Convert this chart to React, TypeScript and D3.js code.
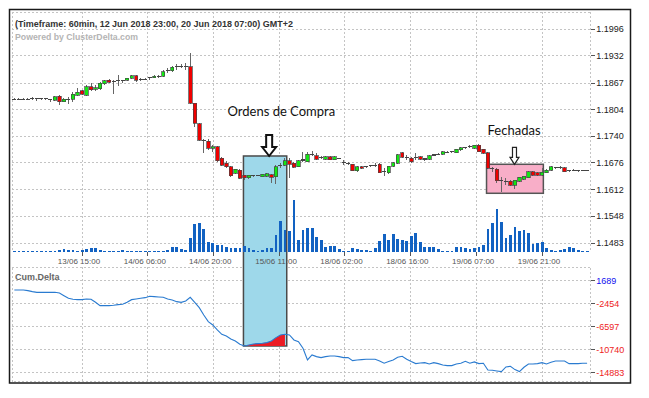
import * as d3 from "d3";

// hourly bars, 13/06 00:00 .. 20/06 07:00 (GMT+2), weekend skipped
const opens = [
  1.18289, 1.18282, 1.18289, 1.18282, 1.18289, 1.18296, 1.18282, 1.18306, 1.18272, 1.18265,
  1.18361, 1.18224, 1.18272, 1.18282, 1.18385, 1.18481, 1.18385, 1.18584, 1.18522, 1.18529,
  1.18649, 1.18744, 1.1872, 1.18737, 1.1872, 1.18744, 1.18785, 1.18847, 1.18761, 1.18768,
  1.18768, 1.188, 1.1884, 1.1884, 1.1896, 1.18967, 1.19049, 1.19063, 1.1908, 1.19063,
  1.18186, 1.1769, 1.17306, 1.17282, 1.17107, 1.17139, 1.16868, 1.16748, 1.16666, 1.16508,
  1.16587, 1.16467, 1.16402, 1.1646, 1.1645, 1.16431, 1.16443, 1.16479, 1.16426, 1.16666,
  1.16707, 1.1681, 1.16748, 1.16666, 1.16827, 1.16786, 1.16963, 1.1693, 1.16882, 1.16844,
  1.16906, 1.16827, 1.16868, 1.16762, 1.16748, 1.16724, 1.1657, 1.16666, 1.16666, 1.1669,
  1.167, 1.16724, 1.16546, 1.16522, 1.16683, 1.16748, 1.17002, 1.16892, 1.16868, 1.16882,
  1.16906, 1.16844, 1.16844, 1.1694, 1.16963, 1.16963, 1.17012, 1.17026, 1.17002, 1.17067,
  1.17122, 1.17146, 1.17107, 1.17186, 1.17083, 1.17002, 1.16628, 1.16604, 1.16347, 1.16323,
  1.16323, 1.16227, 1.16323, 1.16371, 1.16402, 1.16546, 1.16522, 1.16467, 1.16522, 1.16587,
  1.16642, 1.16652, 1.16642, 1.16546, 1.1658, 1.1657, 1.1658, 1.1657,
];
const highs = [
  1.18306, 1.18313, 1.18306, 1.18306, 1.18337, 1.18306, 1.18313, 1.18313, 1.18289, 1.18361,
  1.18385, 1.18313, 1.18344, 1.18464, 1.18545, 1.18505, 1.18625, 1.18665, 1.18625, 1.18704,
  1.18744, 1.18768, 1.18756, 1.18864, 1.18756, 1.18768, 1.18864, 1.18876, 1.18792, 1.188,
  1.18816, 1.18864, 1.18876, 1.18984, 1.19032, 1.1908, 1.19128, 1.19128, 1.19152, 1.19384,
  1.18193, 1.17707, 1.1733, 1.17337, 1.17186, 1.17162, 1.16899, 1.16803, 1.16683, 1.16623,
  1.16623, 1.16479, 1.16479, 1.16474, 1.16474, 1.16498, 1.16515, 1.16503, 1.16707, 1.16755,
  1.16875, 1.16875, 1.16779, 1.16827, 1.17019, 1.17019, 1.1705, 1.17002, 1.16923, 1.1693,
  1.16923, 1.16923, 1.16882, 1.16827, 1.16779, 1.16738, 1.16683, 1.1669, 1.1669, 1.16714,
  1.16748, 1.16755, 1.16628, 1.16695, 1.16779, 1.16971, 1.17026, 1.16947, 1.16899, 1.16987,
  1.1693, 1.16875, 1.16947, 1.16971, 1.16987, 1.17043, 1.17035, 1.1705, 1.17098, 1.17146,
  1.17146, 1.17186, 1.17186, 1.1721, 1.17098, 1.17026, 1.16666, 1.16628, 1.16426, 1.16388,
  1.16347, 1.16359, 1.16426, 1.1645, 1.16563, 1.16575, 1.16532, 1.16628, 1.16611, 1.16683,
  1.16659, 1.16676, 1.16659, 1.16594, 1.16611, 1.16594, 1.16594, 1.16587,
];
const lows = [
  1.18272, 1.18265, 1.18272, 1.18265, 1.18272, 1.18241, 1.18265, 1.18265, 1.18224, 1.18241,
  1.18145, 1.1821, 1.18176, 1.18224, 1.18368, 1.18385, 1.18361, 1.18481, 1.18481, 1.18505,
  1.18625, 1.18673, 1.18409, 1.18601, 1.18673, 1.1872, 1.18768, 1.18704, 1.1872, 1.18737,
  1.18744, 1.18785, 1.18792, 1.18816, 1.18912, 1.18943, 1.18984, 1.19032, 1.18984, 1.18169,
  1.17625, 1.17282, 1.16987, 1.17067, 1.17019, 1.16779, 1.16683, 1.16642, 1.16426, 1.16491,
  1.16371, 1.16347, 1.16383, 1.16431, 1.16436, 1.16419, 1.16426, 1.16287, 1.16251, 1.16635,
  1.16683, 1.16388, 1.16635, 1.16652, 1.16786, 1.16779, 1.16923, 1.16827, 1.16851, 1.16827,
  1.16815, 1.16815, 1.16851, 1.16707, 1.16707, 1.16563, 1.16546, 1.16618, 1.16642, 1.16666,
  1.16666, 1.16515, 1.16443, 1.16498, 1.16659, 1.16731, 1.16875, 1.16827, 1.16748, 1.16827,
  1.16827, 1.1681, 1.16827, 1.16923, 1.16947, 1.16947, 1.16987, 1.17002, 1.16995, 1.1705,
  1.17098, 1.17115, 1.17091, 1.17026, 1.16978, 1.16611, 1.16546, 1.16275, 1.16067, 1.16227,
  1.16204, 1.16124, 1.16307, 1.16355, 1.16395, 1.16443, 1.16443, 1.1645, 1.16508, 1.1657,
  1.16611, 1.16618, 1.16539, 1.16532, 1.16556, 1.16546, 1.16556, 1.16556,
];
const closes = [
  1.18282, 1.18289, 1.18282, 1.18289, 1.18296, 1.18282, 1.18306, 1.18272, 1.18258, 1.18344,
  1.18224, 1.18289, 1.18282, 1.18402, 1.1845, 1.18402, 1.18584, 1.18505, 1.1856, 1.18665,
  1.18728, 1.18689, 1.18713, 1.18744, 1.18728, 1.18785, 1.18847, 1.18744, 1.18768, 1.18761,
  1.188, 1.1884, 1.18833, 1.18943, 1.18967, 1.19049, 1.19063, 1.1908, 1.19063, 1.18186,
  1.17707, 1.17306, 1.17282, 1.17107, 1.17146, 1.16803, 1.16707, 1.16666, 1.1645, 1.16611,
  1.16388, 1.16402, 1.1646, 1.1645, 1.1646, 1.16484, 1.16503, 1.16419, 1.16666, 1.167,
  1.1681, 1.16724, 1.16652, 1.1681, 1.1682, 1.16963, 1.16954, 1.16844, 1.16892, 1.16906,
  1.16834, 1.16899, 1.16858, 1.16755, 1.16738, 1.1657, 1.16666, 1.16628, 1.16659, 1.16683,
  1.1669, 1.16522, 1.16539, 1.16683, 1.16762, 1.16947, 1.16892, 1.16882, 1.16786, 1.16892,
  1.16844, 1.16851, 1.1693, 1.16947, 1.16954, 1.17026, 1.17002, 1.17035, 1.17083, 1.17122,
  1.17115, 1.17139, 1.17186, 1.17026, 1.16987, 1.16628, 1.16618, 1.1633, 1.1634, 1.16316,
  1.16227, 1.16347, 1.16412, 1.16443, 1.16546, 1.16467, 1.16467, 1.16532, 1.16587, 1.16666,
  1.16628, 1.16642, 1.16546, 1.1657, 1.16587, 1.1658, 1.1657, 1.16575,
];
const volumes = [
  22, 18, 20, 16, 20, 18, 22, 20, 18, 24, 26, 46, 34, 26, 14, 34, 46, 66, 66, 40,
  20, 20, 18, 20, 34, 20, 18, 20, 20, 18, 20, 22, 20, 24, 34, 86, 86, 46, 34, 280,
  546, 566, 446, 186, 166, 134, 134, 86, 66, 66, 66, 114, 66, 34, 20, 34, 66, 66, 334, 614,
  434, 414, 1034, 234, 434, 480, 466, 300, 234, 100, 114, 114, 46, 14, 14, 80, 46, 34, 34, 20,
  66, 220, 346, 234, 346, 246, 234, 220, 314, 366, 200, 100, 100, 100, 46, 20, 14, 14, 86, 86,
  80, 54, 66, 86, 134, 446, 566, 854, 600, 266, 334, 500, 420, 434, 380, 154, 166, 186, 66, 34,
  20, 34, 54, 86, 66, 34, 20, 14,
];
const cumDelta = [
  15, 15, 15, -105, -285, -405, -405, -405, -405, -405, -525, -1005, -1485, -1665, -1725, -1725,
  -1605, -1665, -2205, -2805, -2805, -2805, -2745, -2625, -2565, -2205, -1725, -1605, -1485, -1365,
  -1125, -1185, -1245, -1305, -1605, -1785, -2085, -2205, -1965, -1305, -2205, -3165, -4485, -5685,
  -6285, -7185, -7965, -8265, -8805, -9165, -9765, -10065, -9885, -9705, -9645, -9585, -9465, -9165,
  -8565, -8085, -7965, -8085, -8985, -9285, -10485, -12585, -11685, -11985, -12165, -11985, -11865,
  -11865, -11985, -12165, -12165, -12705, -12585, -12525, -12465, -12465, -12465, -12765, -13185,
  -12885, -12585, -12105, -11925, -12465, -12885, -13245, -13125, -13065, -13305, -13065, -13245,
  -13485, -13605, -13605, -13305, -13185, -12825, -13185, -12945, -13245, -13185, -14385, -14445,
  -14565, -14685, -13845, -13725, -14325, -14685, -13905, -13305, -13305, -13245, -13065, -13305,
  -13005, -12765, -12765, -12765, -13245, -13245, -13245, -13185, -13185,
];

const priceTicks = [1.1996, 1.1932, 1.1867, 1.1804, 1.174, 1.1676, 1.1612, 1.1548, 1.1483];
const deltaTicks = [1689, -2454, -6597, -10740, -14883];
const timeTickBars = [15, 29.6, 44.1, 58.7, 73.2, 87.8, 102.4, 117];
const timeTickLabels = [
  "13/06 15:00", "14/06 06:00", "14/06 20:00", "15/06 11:00",
  "18/06 02:00", "18/06 16:00", "19/06 07:00", "19/06 21:00",
];

// annotations: bar index range + price / delta bounds
const buyZone = { from: 50.8, to: 60.4, topPrice: 1.16923, bottomDelta: -10070, label: "Ordens de Compra", labelBar: 59.2, arrowBar: 56.5 };
const closedZone = { from: 104.7, to: 117.3, topPrice: 1.16724, bottomPrice: 1.16029, label: "Fechadas", labelBar: 110.8, arrowBar: 110.9 };

const TITLE = "(Timeframe: 60min, 12 Jun 2018 23:00, 20 Jun 2018 07:00) GMT+2";

const L = 12;
const R = 590.7;
const P_TOP = 12;
const P_BOT = 252;
const D_TOP = 267;
const D_BOT = 381.7;
const GRID = "#c4c4c4";

function arrowPath(cx: number, tipY: number, headW: number, headH: number, shaftW: number, shaftH: number) {
  const p = d3.path();
  p.moveTo(cx - shaftW, tipY - headH - shaftH);
  p.lineTo(cx + shaftW, tipY - headH - shaftH);
  p.lineTo(cx + shaftW, tipY - headH);
  p.lineTo(cx + headW, tipY - headH);
  p.lineTo(cx, tipY);
  p.lineTo(cx - headW, tipY - headH);
  p.lineTo(cx - shaftW, tipY - headH);
  p.closePath();
  return p.toString();
}

export default function App() {
  const x = d3.scaleLinear().domain([15, 117]).range([82, 542]);
  const yPrice = d3.scaleLinear().domain([1.1483, 1.1996]).range([243.3, 29.3]);
  const yVol = d3.scaleLinear().domain([0, 1100]).range([251.7, 196.7]);
  const yDelta = d3.scaleLinear().domain([-14883, 1689]).range([372.7, 280.7]);

  const bars = d3.range(opens.length);
  const deltaLine = d3.line<number>().x((i) => x(i)).y((i) => yDelta(cumDelta[i]));
  const redBars = bars.filter((i) => i >= Math.ceil(buyZone.from) && i <= Math.floor(buyZone.to));
  const redArea = d3
    .area<number>()
    .x((i) => x(i))
    .y0(yDelta(buyZone.bottomDelta))
    .y1((i) => yDelta(cumDelta[i]));

  const bzX0 = x(buyZone.from);
  const bzX1 = x(buyZone.to);
  const bzY0 = yPrice(buyZone.topPrice);
  const bzY1 = yDelta(buyZone.bottomDelta);
  const czX0 = x(closedZone.from);
  const czX1 = x(closedZone.to);
  const czY0 = yPrice(closedZone.topPrice);
  const czY1 = yPrice(closedZone.bottomPrice);

  return (
    <div style={{ position: "absolute", left: 0, top: 0 }}>
      <svg width={649} height={398} style={{ display: "block", background: "#fff" }}>
        {/* grid */}
        <g stroke={GRID} strokeDasharray="2,2" shapeRendering="crispEdges" fill="none">
          <line x1={L} x2={R} y1={P_TOP} y2={P_TOP} />
          <line x1={L} x2={L} y1={P_TOP} y2={P_BOT} />
          <line x1={R} x2={R} y1={P_TOP} y2={P_BOT} />
          {priceTicks.map((t) => (
            <line key={t} x1={L} x2={R} y1={yPrice(t)} y2={yPrice(t)} />
          ))}
          {timeTickBars.map((b) => (
            <line key={"v" + b} x1={x(b)} x2={x(b)} y1={P_TOP} y2={P_BOT} />
          ))}
          <rect x={L} y={D_TOP} width={R - L} height={D_BOT - D_TOP} />
          {deltaTicks.map((t) => (
            <line key={"d" + t} x1={L} x2={R} y1={yDelta(t)} y2={yDelta(t)} />
          ))}
          {timeTickBars.map((b) => (
            <line key={"dv" + b} x1={x(b)} x2={x(b)} y1={D_TOP} y2={D_BOT} />
          ))}
        </g>

        {/* highlight zones */}
        <rect x={bzX0} y={bzY0} width={bzX1 - bzX0} height={bzY1 - bzY0} fill="#9ed8ea" stroke="#4a4a4a" strokeWidth={1.5} />
        <rect x={czX0} y={czY0} width={czX1 - czX0} height={czY1 - czY0} fill="#f8aec8" stroke="#555" strokeWidth={1.5} />

        {/* volume */}
        <g fill="#1262c2" shapeRendering="crispEdges">
          {bars.map((i) => (
            <rect key={i} x={x(i) - 1.3} width={2.8} y={yVol(volumes[i])} height={yVol(0) - yVol(volumes[i])} />
          ))}
        </g>

        {/* candles */}
        <g shapeRendering="crispEdges">
          {bars.map((i) => {
            const o = opens[i];
            const c = closes[i];
            const top = yPrice(Math.max(o, c));
            const bot = yPrice(Math.min(o, c));
            const h = bot - top;
            const cx = x(i);
            return (
              <g key={i}>
                <line x1={cx} x2={cx} y1={yPrice(highs[i])} y2={yPrice(lows[i])} stroke="#666" />
                {h < 1.5 ? (
                  <rect x={cx - 2} y={top - 0.5} width={4} height={1.2} fill="#444" />
                ) : (
                  <rect x={cx - 1.6} y={top} width={3.4} height={h} fill={c > o ? "#14e614" : "#f00000"} stroke="#444" strokeWidth={0.7} />
                )}
              </g>
            );
          })}
        </g>

        {/* cumulative delta */}
        <path d={redArea(redBars) ?? ""} fill="#ec1c24" />
        <path d={deltaLine(bars) ?? ""} fill="none" stroke="#2a7bd0" strokeWidth={1.1} />

        {/* price axis */}
        <g fontFamily="Liberation Sans, Arial, sans-serif" fontSize={9} fill="#222">
          {priceTicks.map((t) => (
            <g key={t}>
              <line x1={R} x2={R + 4} y1={yPrice(t)} y2={yPrice(t)} stroke="#555" shapeRendering="crispEdges" />
              <text x={R + 5.5} y={yPrice(t)} dy="0.35em">{t.toFixed(4)}</text>
            </g>
          ))}
        </g>
        <g fontFamily="Liberation Sans, Arial, sans-serif" fontSize={9}>
          {deltaTicks.map((t) => (
            <g key={t}>
              <line x1={R} x2={R + 4} y1={yDelta(t)} y2={yDelta(t)} stroke="#555" shapeRendering="crispEdges" />
              <text x={R + 5.5} y={yDelta(t)} dy="0.35em" fill={t >= 0 ? "#1010f0" : "#ee1c1c"}>{t}</text>
            </g>
          ))}
        </g>

        {/* time axis */}
        <g fontFamily="Liberation Sans, Arial, sans-serif" fontSize={8} fill="#555">
          {timeTickBars.map((b, k) => (
            <g key={b}>
              <line x1={x(b)} x2={x(b)} y1={P_BOT} y2={P_BOT + 4} stroke="#555" shapeRendering="crispEdges" />
              <text x={x(b) - 3} y={264} textAnchor="middle">{timeTickLabels[k]}</text>
            </g>
          ))}
        </g>

        {/* headings */}
        <text x={15} y={26.5} fontFamily="Liberation Sans, Arial, sans-serif" fontWeight="bold" fontSize={9.5} fill="#333" textLength={278} lengthAdjust="spacingAndGlyphs">{TITLE}</text>
        <text x={15} y={39.5} fontFamily="Liberation Sans, Arial, sans-serif" fontWeight="bold" fontSize={9} fill="#b4b4b4" textLength={123} lengthAdjust="spacingAndGlyphs">Powered by ClusterDelta.com</text>
        <text x={15} y={280} fontFamily="Liberation Sans, Arial, sans-serif" fontWeight="bold" fontSize={9} fill="#666">Cum.Delta</text>

        {/* annotations */}
        <text x={x(buyZone.labelBar)} y={116} textAnchor="middle" fontFamily="Lato, sans-serif" fontSize={13} fill="#111">{buyZone.label}</text>
        <path d={arrowPath(x(buyZone.arrowBar), bzY0, 7, 9, 3, 12)} fill="#fff" stroke="#111" strokeWidth={2} strokeLinejoin="miter" />
        <text x={x(closedZone.labelBar)} y={135} textAnchor="middle" fontFamily="Lato, sans-serif" fontSize={13} fill="#111">{closedZone.label}</text>
        <path d={arrowPath(x(closedZone.arrowBar), czY0, 4.5, 7, 2, 10)} fill="#fff" stroke="#222" strokeWidth={1.2} />

        {/* frame */}
        <rect x={9.5} y={9.5} width={621} height={373.5} fill="none" stroke="#1a1a1a" strokeWidth={1.5} />
      </svg>
    </div>
  );
}
